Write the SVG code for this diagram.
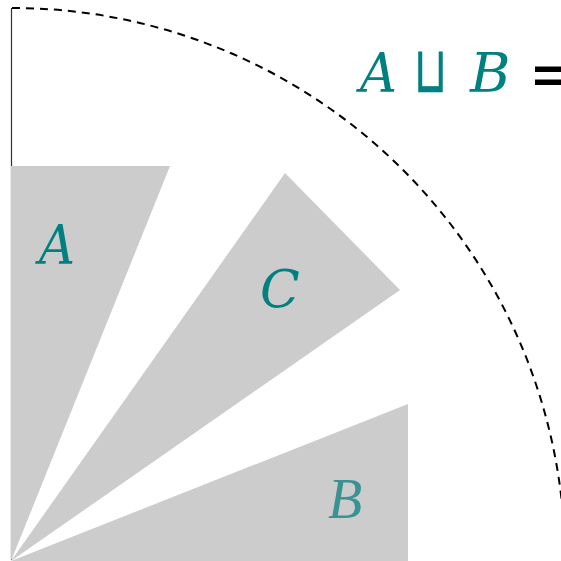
<svg xmlns="http://www.w3.org/2000/svg" width="561" height="561" viewBox="0 0 561 561">
<style>
.sector{fill:#cccccc;stroke:none}
.lbl{font-family:"DejaVu Serif","Liberation Serif",serif;font-style:italic;fill:#008080}
.arc{fill:none;stroke:#000;stroke-width:2;stroke-dasharray:8,6}
</style>
<rect width="561" height="561" fill="#ffffff"/>
<g id="connectors">
<path class="arc" d="M12,8 A553,553 0 0 1 565,561"/>
<line x1="11.5" y1="8" x2="11.5" y2="560" stroke="#333" stroke-width="1.2"/>
</g>
<g id="A">
<polygon class="sector" points="11,561 11,166 170,166"/>
<text class="lbl" x="39" y="264" font-size="55" textLength="36" lengthAdjust="spacingAndGlyphs">A</text>
</g>
<g id="C">
<polygon class="sector" points="11,561 285,173 400,290"/>
<text class="lbl" x="260" y="307" font-size="52">C</text>
</g>
<g id="B">
<polygon class="sector" points="11,561 408,404 408,561"/>
<text x="328" y="518" font-size="56" font-family="Liberation Serif, serif" font-style="italic" fill="#3a9393">B</text>
</g>
<g id="title">
<text x="360" y="92" font-size="55" class="lbl" textLength="37" lengthAdjust="spacingAndGlyphs">A</text>
<text transform="translate(414,92) scale(0.66,1)" font-size="64" font-family="DejaVu Sans, sans-serif" fill="#008080" stroke="#008080" stroke-width="0.7">⊔</text>
<text x="470" y="92" font-size="55" class="lbl">B</text>
<text x="528" y="96" font-size="66" font-family="DejaVu Sans, sans-serif" fill="#000">=</text>
</g>
</svg>
